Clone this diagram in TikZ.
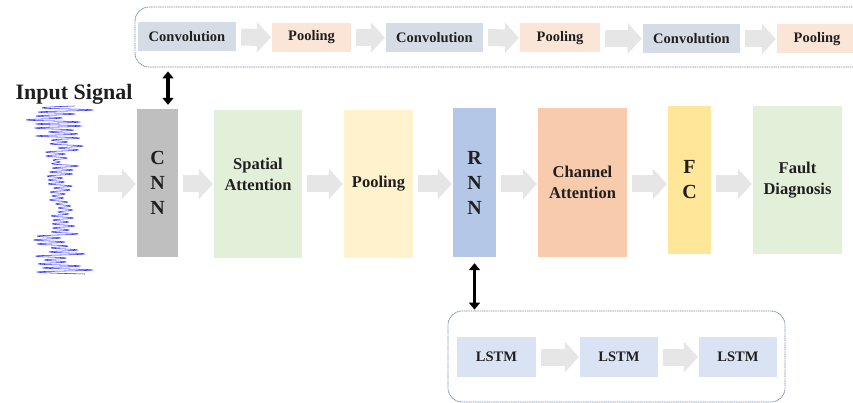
\documentclass[tikz,border=0pt]{standalone}
\usepackage{fontspec}
\setmainfont{Liberation Serif}
\usetikzlibrary{arrows.meta}

\definecolor{txtcol}{HTML}{1F1F1F}
\definecolor{convcol}{HTML}{D6DCE5}
\definecolor{poolcol}{HTML}{FBE5D6}
\definecolor{cnncol}{HTML}{BFBFBF}
\definecolor{attcol}{HTML}{E2F0D9}
\definecolor{bigpoolcol}{HTML}{FFF2CC}
\definecolor{rnncol}{HTML}{B4C7E7}
\definecolor{chancol}{HTML}{F8CBAD}
\definecolor{fccol}{HTML}{FFE699}
\definecolor{lstmcol}{HTML}{DAE3F3}
\definecolor{arrcol}{HTML}{E7E6E6}
\definecolor{grpcol}{HTML}{7F8FAA}
\definecolor{sigblue}{HTML}{2A2AFF}

\tikzset{
  box/.style={inner sep=0pt, align=center, text=txtcol,
    font=\bfseries\fontsize{16.5}{21}\selectfont},
  tall/.style={box, minimum height=148pt},
  letters/.style={tall, font=\bfseries\fontsize{20}{25}\selectfont},
  small/.style={box, minimum height=29pt,
    font=\bfseries\fontsize{14.5}{17}\selectfont},
  group/.style={draw=grpcol, line width=0.8pt, dash pattern=on 1.2pt off 0.6pt,
    rounded corners=14pt, inner sep=0pt},
  flow/.style={draw=arrcol, line width=17pt,
    -{Triangle[length=14pt,width=30pt]}, shorten <=5pt, shorten >=1pt},
  dbl/.style={line width=3.8pt,
    {Triangle[length=7pt,width=11pt]}-{Triangle[length=7pt,width=11pt]}},
  sigline/.style={draw=sigblue, line width=0.55pt}
}

\begin{document}
\begin{tikzpicture}[x=1pt, y=-1pt]
\useasboundingbox (0,0) rectangle (853,403);

% convolution / pooling chain
\node[group, minimum width=740pt, minimum height=60pt] (cnnbox) at (505,37) {};
\node[small, fill=convcol, minimum width=98pt] (conv1) at (187,37) {Convolution};
\node[small, fill=poolcol, minimum width=79pt] (pool1) at (311.5,37.5) {Pooling};
\node[small, fill=convcol, minimum width=97pt] (conv2) at (434.5,37.5) {Convolution};
\node[small, fill=poolcol, minimum width=80pt] (pool2) at (560,38) {Pooling};
\node[small, fill=convcol, minimum width=97pt] (conv3) at (691.5,39) {Convolution};
\node[small, fill=poolcol, minimum width=80pt] (pool3) at (817,39) {Pooling};
\draw[flow] (conv1) -- (pool1);
\draw[flow] (pool1) -- (conv2);
\draw[flow] (conv2) -- (pool2);
\draw[flow] (pool2) -- (conv3);
\draw[flow] (conv3) -- (pool3);

% input signal
\node[text=txtcol, font=\bfseries\fontsize{22}{26}\selectfont] (insig) at (74,94) {Input Signal};
\pgfmathsetseed{23}
\draw[sigline] plot[smooth, tension=0.8, domain=0:84, samples=85, variable=\k]
  ({60+4*sin(\k*37)+(22+9*cos(\k*4.2857))*(0.15+0.85*rnd)*(1-2*mod(round(\k),2))}, {106+2*\k});
\coordinate (sigout) at (93,184);

% main row
\coordinate (row) at (0,184);
\node[letters, fill=cnncol, minimum width=41pt] (cnn) at (157.5,183) {C\\N\\N};
\node[tall, fill=attcol, minimum width=88pt, text depth=20pt] (sa) at (258,184) {Spatial\\Attention};
\node[tall, fill=bigpoolcol, minimum width=69pt] (pool) at (378.5,184) {Pooling};
\node[letters, fill=rnncol, minimum width=43pt, minimum height=149pt] (rnn) at (474.5,182.5) {R\\N\\N};
\node[tall, fill=chancol, minimum width=89pt, minimum height=149pt] (ca) at (582.5,182.5) {Channel\\Attention};
\node[letters, fill=fccol, minimum width=43pt] (fc) at (689.5,180) {F\\C};
\node[tall, fill=attcol, minimum width=89pt] (fd) at (797.5,180) {Fault\\Diagnosis};
\draw[flow] (sigout) -- (cnn.west |- row);
\draw[flow] (cnn.east |- row) -- (sa.west |- row);
\draw[flow] (sa.east |- row) -- (pool.west |- row);
\draw[flow] (pool.east |- row) -- (rnn.west |- row);
\draw[flow] (rnn.east |- row) -- (ca.west |- row);
\draw[flow] (ca.east |- row) -- (fc.west |- row);
\draw[flow] (fc.east |- row) -- (fd.west |- row);

% lstm chain
\node[group, minimum width=337pt, minimum height=91pt] (lstmbox) at (616.5,356.5) {};
\node[small, fill=lstmcol, minimum width=79pt, minimum height=40pt] (lstm1) at (496.5,357) {LSTM};
\node[small, fill=lstmcol, minimum width=78pt, minimum height=40pt] (lstm2) at (619,357) {LSTM};
\node[small, fill=lstmcol, minimum width=78pt, minimum height=40pt] (lstm3) at (738,357) {LSTM};
\draw[flow] (lstm1) -- (lstm2);
\draw[flow] (lstm2) -- (lstm3);

% links to the sub-networks
\coordinate (cx) at (168,0);
\draw[dbl, shorten <=4pt, shorten >=4pt] (cnnbox.south -| cx) -- (cnn.north -| cx);
\draw[dbl, shorten <=6pt, shorten >=1pt] (rnn.south) -- (rnn.south |- lstmbox.north);
\end{tikzpicture}
\end{document}
